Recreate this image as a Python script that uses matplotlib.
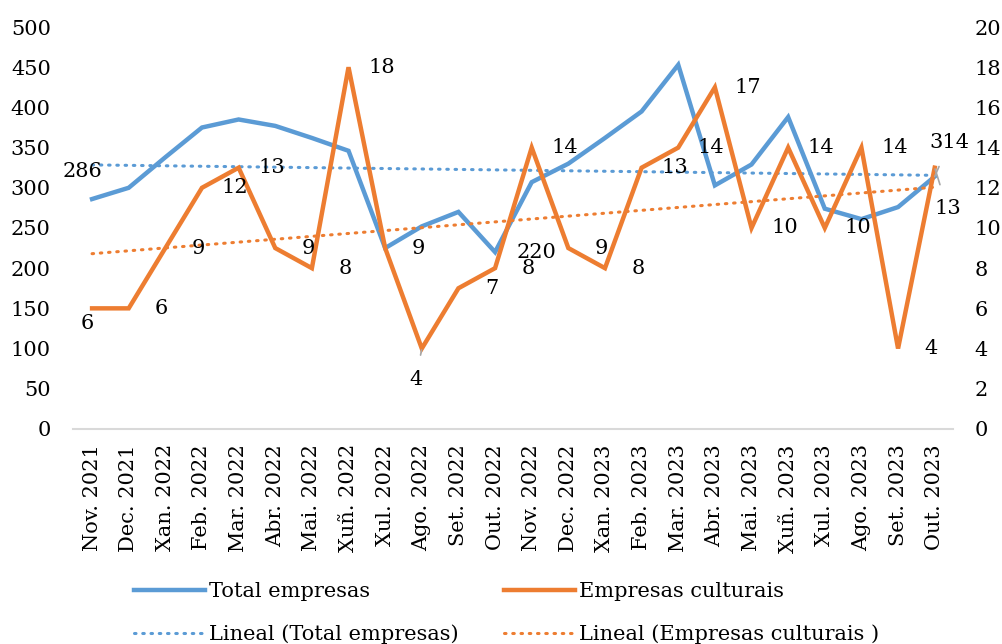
import numpy as np
import matplotlib
matplotlib.use("Agg")
import matplotlib.pyplot as plt

plt.rcParams['font.family'] = ['DejaVu Serif']
plt.rcParams['font.size'] = 15

months = ["Nov. 2021", "Dec. 2021", "Xan. 2022", "Feb. 2022", "Mar. 2022", "Abr. 2022",
          "Mai. 2022", "Xuñ. 2022", "Xul. 2022", "Ago. 2022", "Set. 2022", "Out. 2022",
          "Nov. 2022", "Dec. 2022", "Xan. 2023", "Feb. 2023", "Mar. 2023", "Abr. 2023",
          "Mai. 2023", "Xuñ. 2023", "Xul. 2023", "Ago. 2023", "Set. 2023", "Out. 2023"]
total_empresas = [286, 300, 338, 375, 385, 377, 362, 346, 225, 252, 270, 220,
                  307, 330, 362, 395, 453, 303, 329, 388, 274, 261, 276, 314]
empresas_culturais = [6, 6, 9, 12, 13, 9, 8, 18, 9, 4, 7, 8,
                      14, 9, 8, 13, 14, 17, 10, 14, 10, 14, 4, 13]

# which total values get a label
total_labelled = [0, 11, 23]

blue = "#5B9BD5"
orange = "#ED7D31"
grey = "#A6A6A6"

x = np.arange(len(months))

fig = plt.figure(figsize=(10.03, 6.44), dpi=100)
ax = fig.add_axes([0.0728, 0.334, 0.877, 0.624])
ax2 = ax.twinx()

ax.plot(x, total_empresas, color=blue, lw=3.2, solid_joinstyle="miter", zorder=2)
tb = np.polyfit(x, total_empresas, 1)
ax.plot(x, np.polyval(tb, x), color=blue, lw=2.2, ls=(0, (0.5, 2.2)),
        dash_capstyle="round", zorder=3)

ax2.plot(x, empresas_culturais, color=orange, lw=3.2, solid_joinstyle="miter", zorder=2)
tc = np.polyfit(x, empresas_culturais, 1)
ax2.plot(x, np.polyval(tc, x), color=orange, lw=2.2, ls=(0, (0.5, 2.2)),
         dash_capstyle="round", zorder=3)

ax.set_xlim(-0.52, 23.49)
ax.set_ylim(0, 500)
ax2.set_ylim(0, 20)
ax.set_yticks(range(0, 501, 50))
ax2.set_yticks(range(0, 21, 2))
ax.set_xticks(x)
ax.set_xticklabels(months, rotation=90)

for a in (ax, ax2):
    for s in a.spines.values():
        s.set_visible(False)
    a.tick_params(length=0)
ax.spines["bottom"].set_visible(True)
ax.spines["bottom"].set_color("#D9D9D9")
ax.spines["bottom"].set_linewidth(1.5)
ax.tick_params(axis="y", pad=16)
ax2.tick_params(axis="y", pad=16)
ax.tick_params(axis="x", pad=11)

# data labels: culturais mostly sit one step to the right
special = {0: (-0.14, -0.75), 9: (-0.16, -1.55), 23: (0.35, -2.05)}
for i, v in enumerate(empresas_culturais):
    dx, dy = special.get(i, (0.9, 0.0))
    if i in (9, 23):
        ax2.annotate(str(v), xy=(i, v), xytext=(i + dx, v + dy), ha="center", va="center",
                     arrowprops=dict(arrowstyle="-", color=grey, lw=1.2, shrinkA=9, shrinkB=1),
                     zorder=5)
    else:
        ax2.text(i + dx, v + dy, str(v), ha="center", va="center", zorder=5)

total_offsets = {0: (-0.27, 34), 11: (1.12, 0), 23: (0.4, 42)}
for i in total_labelled:
    v = total_empresas[i]
    dx, dy = total_offsets[i]
    if i == 23:
        ax2.annotate(str(v), xy=(i, v / 25), xytext=(i + dx, (v + dy) / 25),
                     ha="center", va="center",
                     arrowprops=dict(arrowstyle="-", color=grey, lw=1.2, shrinkA=9, shrinkB=0),
                     zorder=5)
    else:
        ax2.text(i + dx, (v + dy) / 25, str(v), ha="center", va="center", zorder=5)

handles = [
    plt.Line2D([], [], color=blue, lw=3.2),
    plt.Line2D([], [], color=blue, lw=2.2, ls=(0, (0.5, 2.2)), dash_capstyle="round"),
    plt.Line2D([], [], color=orange, lw=3.2),
    plt.Line2D([], [], color=orange, lw=2.2, ls=(0, (0.5, 2.2)), dash_capstyle="round"),
]
labels = ["Total empresas", "Lineal (Total empresas)",
          "Empresas culturais", "Lineal (Empresas culturais )"]
fig.legend(handles, labels, loc="upper center", bbox_to_anchor=(0.505, 0.125),
           ncol=2, frameon=False, handlelength=3.4, handletextpad=0.2,
           columnspacing=2.2, labelspacing=1.1)

fig.savefig("out.png", dpi=100)
